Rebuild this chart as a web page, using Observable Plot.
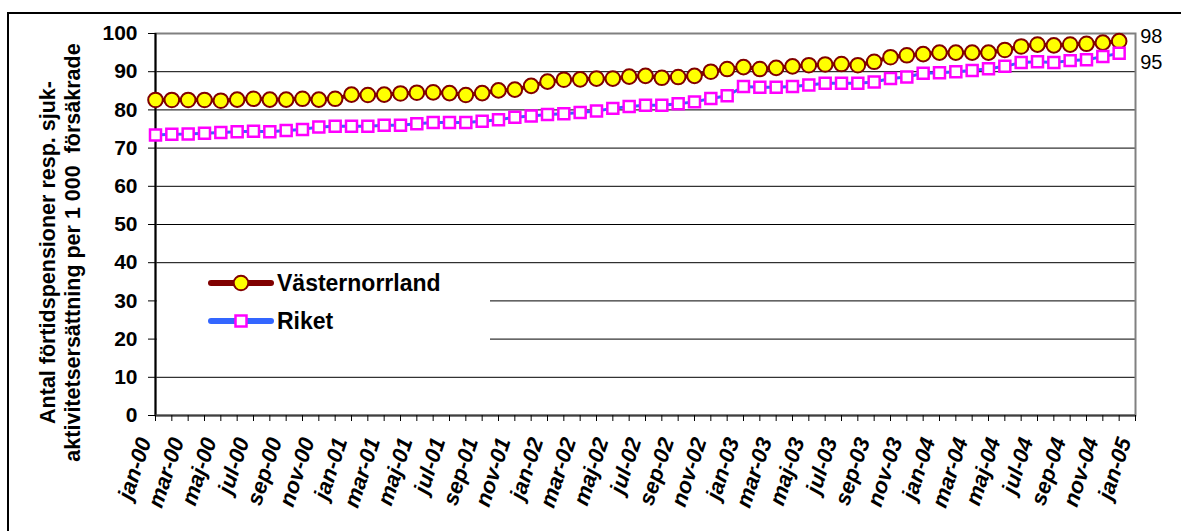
<!DOCTYPE html>
<html><head><meta charset="utf-8">
<script src="https://cdn.jsdelivr.net/npm/d3@7"></script>
<script src="https://cdn.jsdelivr.net/npm/@observablehq/plot@0.6"></script>
<style>
body{margin:0;background:#fff;width:1181px;height:531px;overflow:hidden;position:relative;font-family:"Liberation Sans",Arial,sans-serif;}
#title{position:absolute;left:4px;top:-24px;font:20px/23px "Liberation Serif","Times New Roman",serif;white-space:nowrap;color:#000;}
#frame{position:absolute;left:7px;top:12px;width:1200px;height:600px;border:2px solid #000;}
#chart{position:absolute;left:0;top:0;}
#legend{position:absolute;left:157px;top:266px;width:333px;height:78px;background:#fff;}
</style></head><body>
<div id="title">Figur 3, Antal förtidspensioner/sjuk- och aktivitetsersättning per 1 000 försäkrade, Västernorrland och riket</div>
<div id="frame"></div>
<div id="chart"></div>
<div id="legend"></div>
<script>
const tickLabels = ["jan-00","mar-00","maj-00","jul-00","sep-00","nov-00",
  "jan-01","mar-01","maj-01","jul-01","sep-01","nov-01",
  "jan-02","mar-02","maj-02","jul-02","sep-02","nov-02",
  "jan-03","mar-03","maj-03","jul-03","sep-03","nov-03",
  "jan-04","mar-04","maj-04","jul-04","sep-04","nov-04","jan-05"];
const seriesNames = ["Västernorrland", "Riket"];
const vasternorrland = [82.6,82.6,82.6,82.6,82.4,82.7,82.9,82.7,82.7,82.9,82.7,82.9,
  84.0,83.9,84.0,84.3,84.5,84.6,84.4,83.9,84.4,85.1,85.3,86.3,
  87.4,87.9,88.0,88.2,88.2,88.7,88.9,88.4,88.6,88.9,90.0,90.7,
  91.2,90.7,91.0,91.4,91.7,91.9,92.0,91.7,92.6,93.8,94.3,94.6,
  95.0,95.0,95.0,95.0,95.7,96.6,97.1,96.9,97.1,97.3,97.6,98.0];
const riket = [73.4,73.6,73.7,73.9,74.1,74.3,74.4,74.3,74.6,74.9,75.5,75.7,
  75.7,75.7,76.0,76.0,76.4,76.7,76.7,76.7,77.0,77.4,78.1,78.4,
  78.8,79.0,79.3,79.7,80.4,80.9,81.2,81.2,81.6,82.1,83.0,83.7,
  86.1,85.9,85.9,86.1,86.5,87.0,87.0,87.0,87.3,88.2,88.6,89.6,
  89.7,90.0,90.3,90.8,91.4,92.4,92.6,92.4,92.9,93.1,94.0,94.8];
const endLabels = ["98", "95"];
const yTicks = [0,10,20,30,40,50,60,70,80,90,100];
const yTitle = "Antal förtidspensioner resp. sjuk-\naktivitetsersättning per 1 000\u00a0 försäkrade";

const vData = vasternorrland.map((v, i) => ({i, v}));
const rData = riket.map((v, i) => ({i, v}));
const monthTicks = d3.range(tickLabels.length * 2 - 1);
const font = "Liberation Sans, Arial, sans-serif";

const chart = Plot.plot({
  width: 1181, height: 531,
  marginLeft: 155, marginRight: 46, marginTop: 33, marginBottom: 116,
  style: {background: "transparent", fontFamily: font, color: "#000", overflow: "visible"},
  x: {type: "linear", domain: [0, monthTicks.length - 1]},
  y: {domain: [0, 100]},
  marks: [
    Plot.gridY(yTicks, {stroke: "#000", strokeOpacity: 1, strokeWidth: 1}),
    Plot.frame({stroke: "#808080", strokeWidth: 2}),
    Plot.ruleX([0], {stroke: "#000", strokeWidth: 2}),
    Plot.ruleY([0], {stroke: "#404040", strokeWidth: 2}),
    Plot.axisY(yTicks, {tickSize: 7, tickPadding: 11, fontSize: 21, fontWeight: "bold", label: null, tickFormat: d => String(d)}),
    Plot.axisX(monthTicks, {tickSize: 6, tickFormat: () => "", label: null}),
    Plot.text(tickLabels, {x: (d, i) => 2 * i, text: d => d, frameAnchor: "bottom", rotate: -72, textAnchor: "end",
      dy: 25, dx: -4, fontSize: 22, fontWeight: "bold", fontStyle: "italic"}),
    Plot.line(vData, {x: "i", y: "v", stroke: "#800000", strokeWidth: 4}),
    Plot.dot(vData, {x: "i", y: "v", r: 7.3, fill: "#FFFF00", stroke: "#800000", strokeWidth: 2}),
    Plot.line(rData, {x: "i", y: "v", stroke: "#3366FF", strokeWidth: 3}),
    Plot.dot(rData, {x: "i", y: "v", symbol: "square", r: 6.2, fill: "#fff", stroke: "#FF00FF", strokeWidth: 2.5}),
    Plot.text([vData[vData.length - 1]], {x: "i", y: "v", text: () => endLabels[0], dx: 21, dy: -5, textAnchor: "start", fontSize: 20}),
    Plot.text([rData[rData.length - 1]], {x: "i", y: "v", text: () => endLabels[1], dx: 21, dy: 9, textAnchor: "start", fontSize: 20}),
    Plot.text([yTitle], {frameAnchor: "left", textAnchor: "middle", rotate: -90, dx: -96, dy: 28, fontSize: 21.5, fontWeight: "bold", lineHeight: 1.15})
  ]
});
document.getElementById("chart").appendChild(chart);

// legend
const lg = d3.select("#legend").append("svg").attr("width", 333).attr("height", 78)
  .style("font-family", font);
const legendStyles = [
  {line: "#800000", sym: "circle"},
  {line: "#3366FF", sym: "square"}
];
seriesNames.forEach((name, k) => {
  const y = 17 + 38 * k;
  const g = lg.append("g");
  g.append("line").attr("x1", 54).attr("x2", 114).attr("y1", y).attr("y2", y)
    .attr("stroke", legendStyles[k].line).attr("stroke-width", 6).attr("stroke-linecap", "round");
  if (legendStyles[k].sym === "circle") {
    g.append("circle").attr("cx", 84).attr("cy", y).attr("r", 7.3).attr("fill", "#FFFF00")
      .attr("stroke", "#800000").attr("stroke-width", 2);
  } else {
    g.append("rect").attr("x", 84 - 5.5).attr("y", y - 5.5).attr("width", 11).attr("height", 11)
      .attr("fill", "#fff").attr("stroke", "#FF00FF").attr("stroke-width", 2.5);
  }
  g.append("text").attr("x", 120).attr("y", y).attr("dy", "0.35em")
    .attr("font-size", 23).attr("font-weight", "bold").text(name);
});
</script>
</body></html>
